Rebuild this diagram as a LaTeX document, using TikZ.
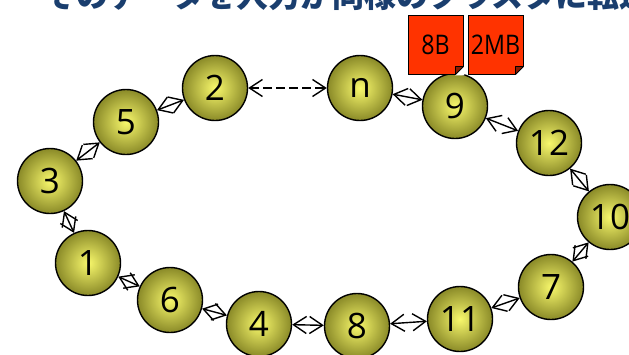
\documentclass[tikz,border=0pt]{standalone}
\usepackage{fontspec}
\setmainfont{Open Sans}
\newfontfamily\cjk{Noto Sans CJK JP}
\newfontfamily\narrow{Open Sans}[FakeStretch=0.86]
\usetikzlibrary{arrows.meta}
\definecolor{ballin}{HTML}{F8F86C}
\definecolor{ballout}{HTML}{8A8A28}
\definecolor{paperred}{HTML}{FF3300}
\definecolor{titleblue}{HTML}{1A3E6E}
\begin{document}
\begin{tikzpicture}[x=1pt,y=-1pt,
  ball/.style={circle,draw=black,line width=1.4pt,minimum size=65pt,inner sep=0pt,
    inner color=ballin,outer color=ballout,font=\fontsize{35}{35}\selectfont},
  tipb/.tip={Straight Barb[length=13pt,width=17pt,line width=1.4pt]},
  link/.style={tipb-tipb,line width=1.4pt},
  paper/.style={rectangle,draw=black,line width=1pt,fill=paperred,minimum width=55pt,
    minimum height=59pt,inner sep=0pt,font=\narrow\fontsize{27}{27}\selectfont},
  fold/.style={fill=paperred!55!black,draw=black,line width=0.8pt,line join=round},
  title/.style={anchor=base west,inner sep=0pt,text=titleblue,font=\cjk\bfseries\fontsize{32}{32}\selectfont}]
\useasboundingbox (0,0) rectangle (629,354);
\node[title] (ttl) at (44,7) {そのデータを入力が同様のクラスタに転送};
\node[ball] (n2) at (215,88) {2};
\node[ball] (nn) at (360,88) {n};
\node[ball] (n9) at (455,106) {9};
\node[ball] (n12) at (549,143) {12};
\node[ball] (n10) at (610,217) {10};
\node[ball] (n7) at (551,287) {7};
\node[ball] (n11) at (460,319) {11};
\node[ball] (n8) at (357,326) {8};
\node[ball] (n4) at (259,324) {4};
\node[ball] (n6) at (170,300) {6};
\node[ball] (n1) at (88,263) {1};
\node[ball] (n3) at (50,181) {3};
\node[ball] (n5) at (126,122) {5};
\draw[link,dash pattern=on 9pt off 4pt] (n2) -- (nn);
\draw[link] (nn) -- (n9);
\draw[link] (n9) -- (n12);
\draw[link] (n12) -- (n10);
\draw[link] (n10) -- (n7);
\draw[link] (n7) -- (n11);
\draw[link] (n11) -- (n8);
\draw[link] (n8) -- (n4);
\draw[link] (n4) -- (n6);
\draw[link] (n6) -- (n1);
\draw[link] (n1) -- (n3);
\draw[link] (n3) -- (n5);
\draw[link] (n5) -- (n2);
\node[paper] (p1) at (435.5,44.5) {8B};
\node[paper] (p2) at (495.5,44.5) {2MB};
\foreach \p in {p1,p2}{
  \fill[white] (\p.south east) ++(-8.5,0.8) -- ++(9.3,0) -- ++(0,-9.3) -- cycle;
  \filldraw[fold] (\p.south east) ++(-8,0) -- ++(8,-8) -- ++(-8,0) -- cycle;
}
\end{tikzpicture}
\end{document}
